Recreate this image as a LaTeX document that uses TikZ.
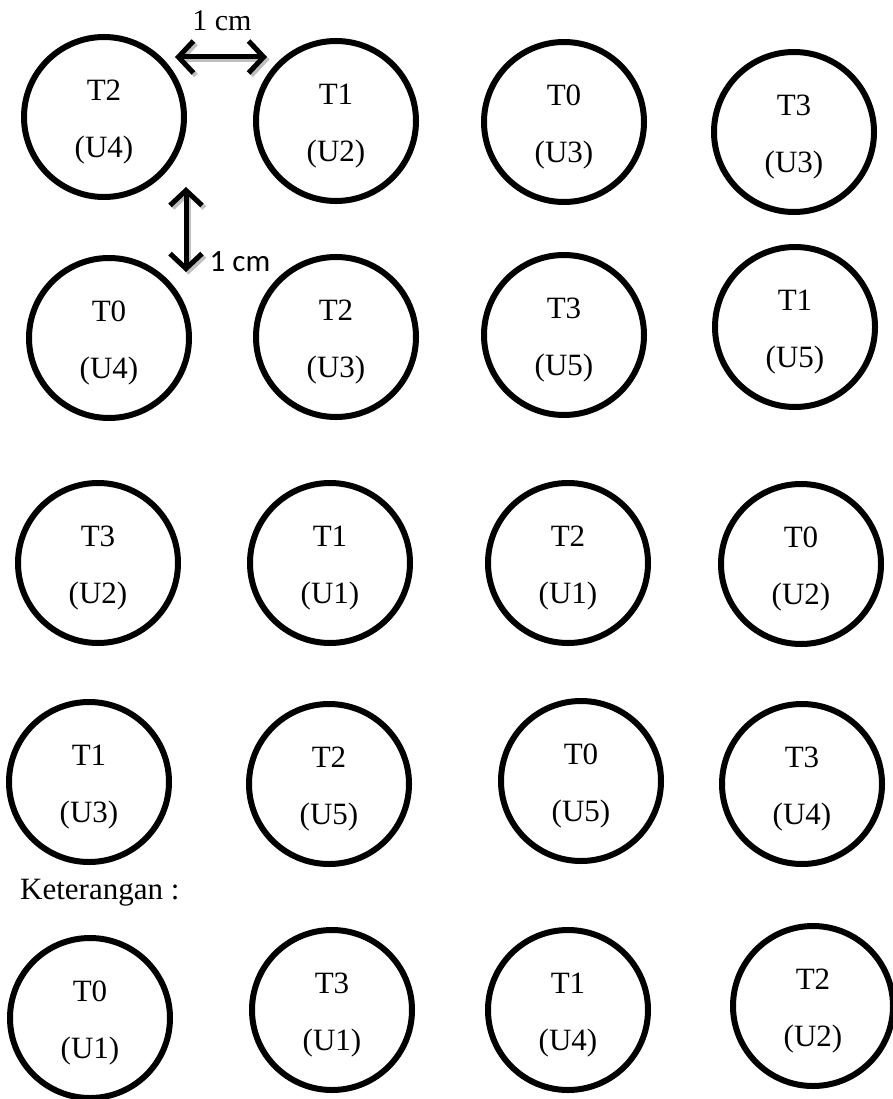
\documentclass[tikz,border=0pt]{standalone}
\usepackage{fontspec}
\setmainfont{Liberation Serif}
\newfontfamily\calibrifont{Carlito}
\usetikzlibrary{arrows.meta}

\tikzset{
	plot/.style 2 args={draw,circle,line width=6pt,minimum size=160pt,inner sep=0pt,
		label={[font=\fontsize{31}{37}\selectfont,yshift=27pt]center:#1},
		label={[font=\fontsize{31}{37}\selectfont,yshift=-33pt]center:(#2)}},
	gap/.style={{Straight Barb[length=15pt,width=32pt]}-{Straight Barb[length=15pt,width=32pt]},line width=5pt},
	gapshadow/.style={gap,draw=gray!50,transform canvas={shift={(2.5pt,-2.5pt)}}},
}

\begin{document}
\begin{tikzpicture}[x=1pt,y=-1pt]
	\useasboundingbox (0,0) rectangle (893,1099);
	% row 1
	\node[plot={T2}{U4}] (a1) at (104,117) {};
	\node[plot={T1}{U2}] (a2) at (336,121) {};
	\node[plot={T0}{U3}] (a3) at (564,122) {};
	\node[plot={T3}{U3}] (a4) at (794,132) {};
	% row 2
	\node[plot={T0}{U4}] (b1) at (109,338) {};
	\node[plot={T2}{U3}] (b2) at (336,337) {};
	\node[plot={T3}{U5}] (b3) at (564,335) {};
	\node[plot={T1}{U5}] (b4) at (795,327) {};
	% row 3
	\node[plot={T3}{U2}] (c1) at (98,563) {};
	\node[plot={T1}{U1}] (c2) at (330,563) {};
	\node[plot={T2}{U1}] (c3) at (568,563) {};
	\node[plot={T0}{U2}] (c4) at (801,564) {};
	% row 4
	\node[plot={T1}{U3}] (d1) at (89,782) {};
	\node[plot={T2}{U5}] (d2) at (329,784) {};
	\node[plot={T0}{U5}] (d3) at (581,781) {};
	\node[plot={T3}{U4}] (d4) at (802,784) {};
	\node[anchor=west,inner sep=0pt,font=\fontsize{31}{37}\selectfont] (note) at (20,893) {Keterangan :};
	% row 5
	\node[plot={T0}{U1}] (e1) at (90,1018) {};
	\node[plot={T3}{U1}] (e2) at (332,1010) {};
	\node[plot={T1}{U4}] (e3) at (568,1010) {};
	\node[plot={T2}{U2}] (e4) at (813,1006) {};
	% spacing 1 cm
	\coordinate (hleft) at (175,57);
	\coordinate (hright) at (267,57);
	\coordinate (vtop) at (186,187);
	\coordinate (vbot) at (186,272);
	\draw[gapshadow] (hleft) -- (hright);
	\draw[gapshadow] (vtop) -- (vbot);
	\draw[gap] (hleft) -- (hright);
	\draw[gap] (vtop) -- (vbot);
	\node[font=\fontsize{30}{36}\selectfont] (hlabel) at (222,21) {1 cm};
	\node[font=\calibrifont\fontsize{31}{37}\selectfont] (vlabel) at (240,262) {1 cm};
\end{tikzpicture}
\end{document}
